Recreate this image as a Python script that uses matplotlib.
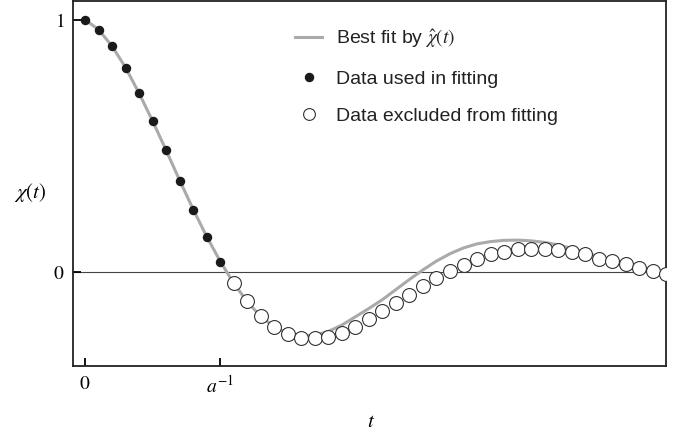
import matplotlib
matplotlib.use("Agg")
import matplotlib.pyplot as plt
from matplotlib.lines import Line2D

plt.rcParams['mathtext.fontset'] = 'stix'

# Data used in fitting (filled)
t_used = [0.0, 0.1, 0.2, 0.3, 0.4, 0.5, 0.6, 0.7, 0.8, 0.9, 1.0]
chi_used = [1.0, 0.958, 0.894, 0.809, 0.708, 0.599, 0.482, 0.362, 0.247, 0.139, 0.041]

# Data excluded from fitting (open)
t_excl = [1.1, 1.2, 1.3, 1.4, 1.5, 1.6, 1.7, 1.8, 1.9, 2.0, 2.1, 2.2, 2.3, 2.4,
          2.5, 2.6, 2.7, 2.8, 2.9, 3.0, 3.1, 3.2, 3.3, 3.4, 3.5, 3.6, 3.7, 3.8,
          3.9, 4.0, 4.1, 4.2, 4.3]
chi_excl = [-0.044, -0.115, -0.173, -0.218, -0.247, -0.262, -0.264, -0.257, -0.241,
            -0.219, -0.188, -0.157, -0.124, -0.092, -0.057, -0.025, 0.004, 0.029,
            0.051, 0.069, 0.080, 0.089, 0.090, 0.089, 0.085, 0.077, 0.069, 0.053,
            0.042, 0.032, 0.017, 0.004, -0.009]

# Best-fit curve
t_fit = [0.0, 0.1, 0.2, 0.3, 0.4, 0.5, 0.6, 0.7, 0.8, 0.9, 1.0, 1.1, 1.2, 1.3,
         1.4, 1.5, 1.6, 1.7, 1.8, 1.9, 2.0, 2.1, 2.2, 2.3, 2.4, 2.5, 2.6, 2.7,
         2.8, 2.9, 3.0, 3.1, 3.2, 3.3, 3.4, 3.5, 3.6, 3.7, 3.8, 3.9, 4.0, 4.1,
         4.2, 4.25]
chi_fit = [1.0, 0.96, 0.895, 0.81, 0.708, 0.598, 0.482, 0.363, 0.248, 0.14,
           0.042, -0.045, -0.118, -0.177, -0.218, -0.243, -0.254, -0.251, -0.236,
           -0.211, -0.178, -0.145, -0.110, -0.070, -0.030, 0.008, 0.043, 0.072,
           0.095, 0.111, 0.120, 0.125, 0.126, 0.123, 0.117, 0.107, 0.093, 0.077,
           0.060, 0.043, 0.026, 0.010, -0.006, -0.012]

xticks = [0, 1]
xticklabels = ['$0$', '$a^{-1}$']
yticks = [0, 1]
yticklabels = ['$0$', '$1$']

fig = plt.figure(figsize=(6.82, 4.37), dpi=100)
ax = fig.add_axes([0.107, 0.1625, 0.870, 0.836])

ax.axhline(0, color='#444444', lw=0.8, zorder=1)
ax.plot(t_fit, chi_fit, color='#aaaaaa', lw=2.2, zorder=2,
        label=r'Best fit by $\hat{\chi}(t)$')
ax.plot(t_used, chi_used, 'o', color='#1a1a1a', ms=5.8, zorder=3,
        label='Data used in fitting')
ax.plot(t_excl, chi_excl, 'o', mfc='white', mec='#333333', mew=0.8, ms=10,
        zorder=3, clip_on=True, label='Data excluded from fitting')

ax.set_xlim(-0.089, 4.3)
ax.set_ylim(-0.373, 1.075)

ax.set_xticks(xticks)
ax.set_xticklabels(xticklabels)
ax.set_yticks(yticks)
ax.set_yticklabels(yticklabels)
ax.tick_params(direction='in', length=6, width=1.3, labelsize=14, pad=6)
for s in ax.spines.values():
    s.set_linewidth(1.3)
    s.set_color('#222222')

ax.set_xlabel('$t$', fontsize=15)
ax.xaxis.set_label_coords(0.5025, -0.122)
ax.set_ylabel(r'$\chi(t)$', fontsize=15, rotation=0, va='center', ha='center')
ax.yaxis.set_label_coords(-0.0725, 0.475)

handles = [Line2D([], [], color='#aaaaaa', lw=2.2),
           Line2D([], [], ls='', marker='o', color='#1a1a1a', ms=5.8),
           Line2D([], [], ls='', marker='o', mfc='white', mec='#333333', mew=0.8, ms=8.5)]
labels = [r'Best fit by $\hat{\chi}(t)$', 'Data used in fitting', 'Data excluded from fitting']
leg = ax.legend(handles, labels, loc='upper left', bbox_to_anchor=(0.375, 0.928),
                frameon=False, prop={'family': 'Liberation Sans', 'size': 14},
                handlelength=1.35, handletextpad=0.75, labelspacing=1.03,
                borderpad=0, borderaxespad=0)
for txt in leg.get_texts():
    txt.set_color('#222222')

fig.savefig('out.png', dpi=100)
